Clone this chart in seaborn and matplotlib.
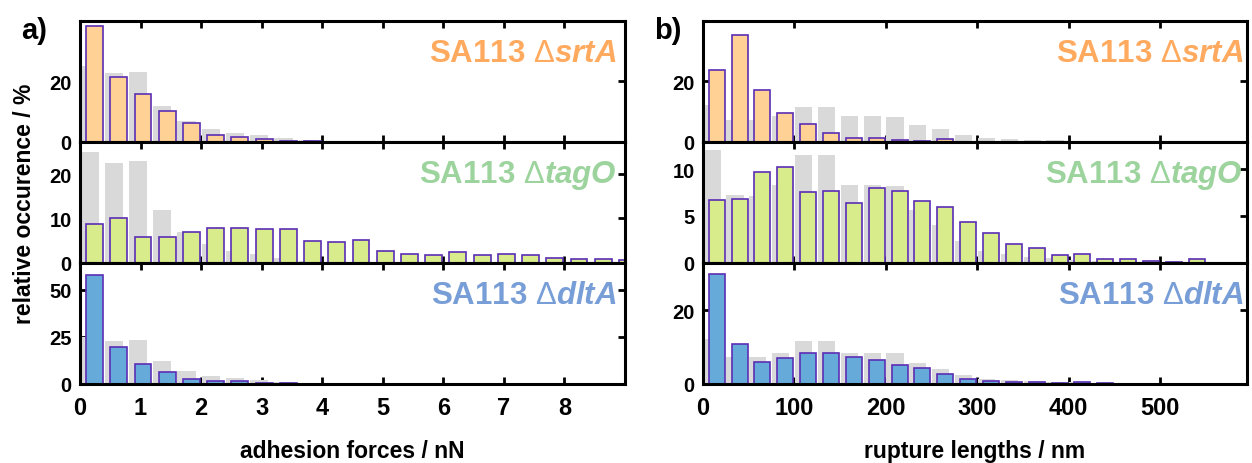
import numpy as np
import matplotlib
matplotlib.use("Agg")
import matplotlib.pyplot as plt
import seaborn as sns

# ---------------- data (relative occurrence / %) ----------------
force_bin = 0.4                                   # nN
force_centers = np.round(0.2 + force_bin * np.arange(23), 3)
gray_force = [25.0, 22.6, 23.0, 11.9, 6.9, 4.2, 2.7, 2.0, 1.0, 0.4, 0.2, 0.1]
srtA_force = [38.4, 21.4, 15.7, 10.0, 6.0, 2.2, 1.6, 0.8, 0.2, 0.3]
tagO_force = [8.7, 10.0, 5.8, 5.7, 6.8, 7.7, 7.9, 7.5, 7.6, 4.9, 4.7, 5.1,
              2.5, 1.9, 1.6, 2.4, 1.7, 1.9, 1.6, 1.1, 0.8, 0.9, 0.6]
dltA_force = [57.7, 19.4, 10.6, 5.9, 2.5, 1.4, 1.2, 0.3, 0.1]

length_bin = 25                                   # nm
length_centers = 12.5 + length_bin * np.arange(23)
gray_length = [12.1, 7.2, 7.1, 8.3, 11.5, 11.5, 8.3, 8.3, 8.2, 5.6, 4.0, 2.3,
               1.2, 0.9, 0.6, 0.5, 0.3, 0.2, 0.1]
srtA_length = [23.6, 35.3, 17.0, 9.6, 5.8, 2.9, 1.2, 1.2, 0.4, 0.3, 0.9]
tagO_length = [6.7, 6.8, 9.75, 10.25, 7.56, 7.64, 6.44, 8.0, 7.64, 6.58, 5.93,
               4.36, 3.2, 2.0, 1.53, 0.84, 0.87, 0.4, 0.4, 0.15, 0.07, 0.33]
dltA_length = [29.9, 10.7, 5.9, 7.0, 8.4, 8.3, 7.1, 6.3, 5.0, 4.2, 2.7, 1.1,
               0.6, 0.45, 0.35, 0.2, 0.45, 0.1]

strain_labels = [r"SA113 $\mathrm{\Delta}\mathit{srtA}$",
                 r"SA113 $\mathrm{\Delta}\mathit{tagO}$",
                 r"SA113 $\mathrm{\Delta}\mathit{dltA}$"]
force_ticks = [0, 1, 2, 3, 4, 5, 6, 7, 8]
length_ticks = [0, 100, 200, 300, 400, 500]

# ---------------- style ----------------
sns.set_theme(style="ticks")
plt.rcParams['font.family'] = ['Liberation Sans', 'DejaVu Sans']
plt.rcParams['font.weight'] = 'bold'
plt.rcParams['mathtext.fontset'] = 'custom'
plt.rcParams['mathtext.rm'] = 'Liberation Sans:regular'
plt.rcParams['mathtext.it'] = 'Liberation Sans:italic:bold'
plt.rcParams['mathtext.bf'] = 'Liberation Sans:bold'
for k in ['text.color', 'axes.labelcolor', 'xtick.color', 'ytick.color', 'axes.edgecolor']:
    plt.rcParams[k] = 'black'

GRAY = '#d9d9d9'
EDGE = '#5b2eb5'
FILLS = ['#ffd194', '#d8ec8c', '#66aad9']
TEXTC = ['#ffaa5f', '#9dd49e', '#789ed7']

W, H = 1252, 464
fig = plt.figure(figsize=(W / 100, H / 100), dpi=100)


def px_axes(x0, x1, y0, y1):
    return fig.add_axes([x0 / W, 1 - y1 / H, (x1 - x0) / W, (y1 - y0) / H])


rows = [(22, 142.5), (142.5, 263.5), (263.5, 384.5)]
cols = [
    dict(x0=80, x1=625, centers=force_centers, binw=force_bin, gray=gray_force,
         series=[srtA_force, tagO_force, dltA_force], ylims=[40, 27.4, 64.5],
         yticks=[[0, 20], [0, 10, 20], [0, 25, 50]], xlim=(0, 9), xticks=force_ticks,
         xlabel="adhesion forces / nN", tx=0.984, panel="a)", px=21),
    dict(x0=703, x1=1247, centers=length_centers, binw=length_bin, gray=gray_length,
         series=[srtA_length, tagO_length, dltA_length], ylims=[40, 13, 33],
         yticks=[[0, 20], [0, 5, 10], [0, 20]], xlim=(0, 595), xticks=length_ticks,
         xlabel="rupture lengths / nm", tx=0.993, panel="b)", px=654),
]

for c in cols:
    for r, (y0, y1) in enumerate(rows):
        ax = px_axes(c['x0'], c['x1'], y0, y1)
        g = c['gray']
        s = c['series'][r]
        sns.barplot(x=c['centers'][:len(g)] - 0.1 * c['binw'], y=g, native_scale=True,
                    orient='x', width=0.75, color=GRAY, saturation=1, linewidth=0,
                    errorbar=None, ax=ax, zorder=1)
        sns.barplot(x=c['centers'][:len(s)] + 0.1 * c['binw'], y=s, native_scale=True,
                    orient='x', width=0.7, color=FILLS[r], saturation=1,
                    edgecolor=EDGE, linewidth=1.2, errorbar=None, ax=ax, zorder=2)
        ax.set_xlim(*c['xlim'])
        ax.set_ylim(0, c['ylims'][r])
        ax.set_xticks(c['xticks'])
        ax.set_yticks(c['yticks'][r])
        ax.set_xlabel('')
        ax.set_ylabel('')
        ax.tick_params(axis='both', direction='in', top=True, right=True,
                       length=5, width=2)
        ax.tick_params(axis='y', labelsize=14.5, pad=6)
        ax.tick_params(axis='x', labelsize=17, pad=9, labelbottom=(r == 2))
        for sp in ax.spines.values():
            sp.set_visible(True)
            sp.set_linewidth(2.2)
            sp.set_color('black')
        ax.text(c['tx'], 1 - 40 / 120.5, strain_labels[r], transform=ax.transAxes,
                ha='right', va='baseline', fontsize=22.5, color=TEXTC[r],
                fontweight='bold')
    fig.text((c['x0'] + c['x1']) / 2 / W, 1 - 458 / H, c['xlabel'], ha='center',
             va='baseline', fontsize=16.5, fontweight='bold')
    fig.text(c['px'] / W, 1 - 39 / H, c['panel'], ha='left', va='baseline',
             fontsize=21, fontweight='bold')

fig.text(25 / W, 1 - 204 / H, "relative occurence / %", rotation=90, ha='center',
         va='center', fontsize=16.5, fontweight='bold')

fig.savefig("out.png", dpi=100)
